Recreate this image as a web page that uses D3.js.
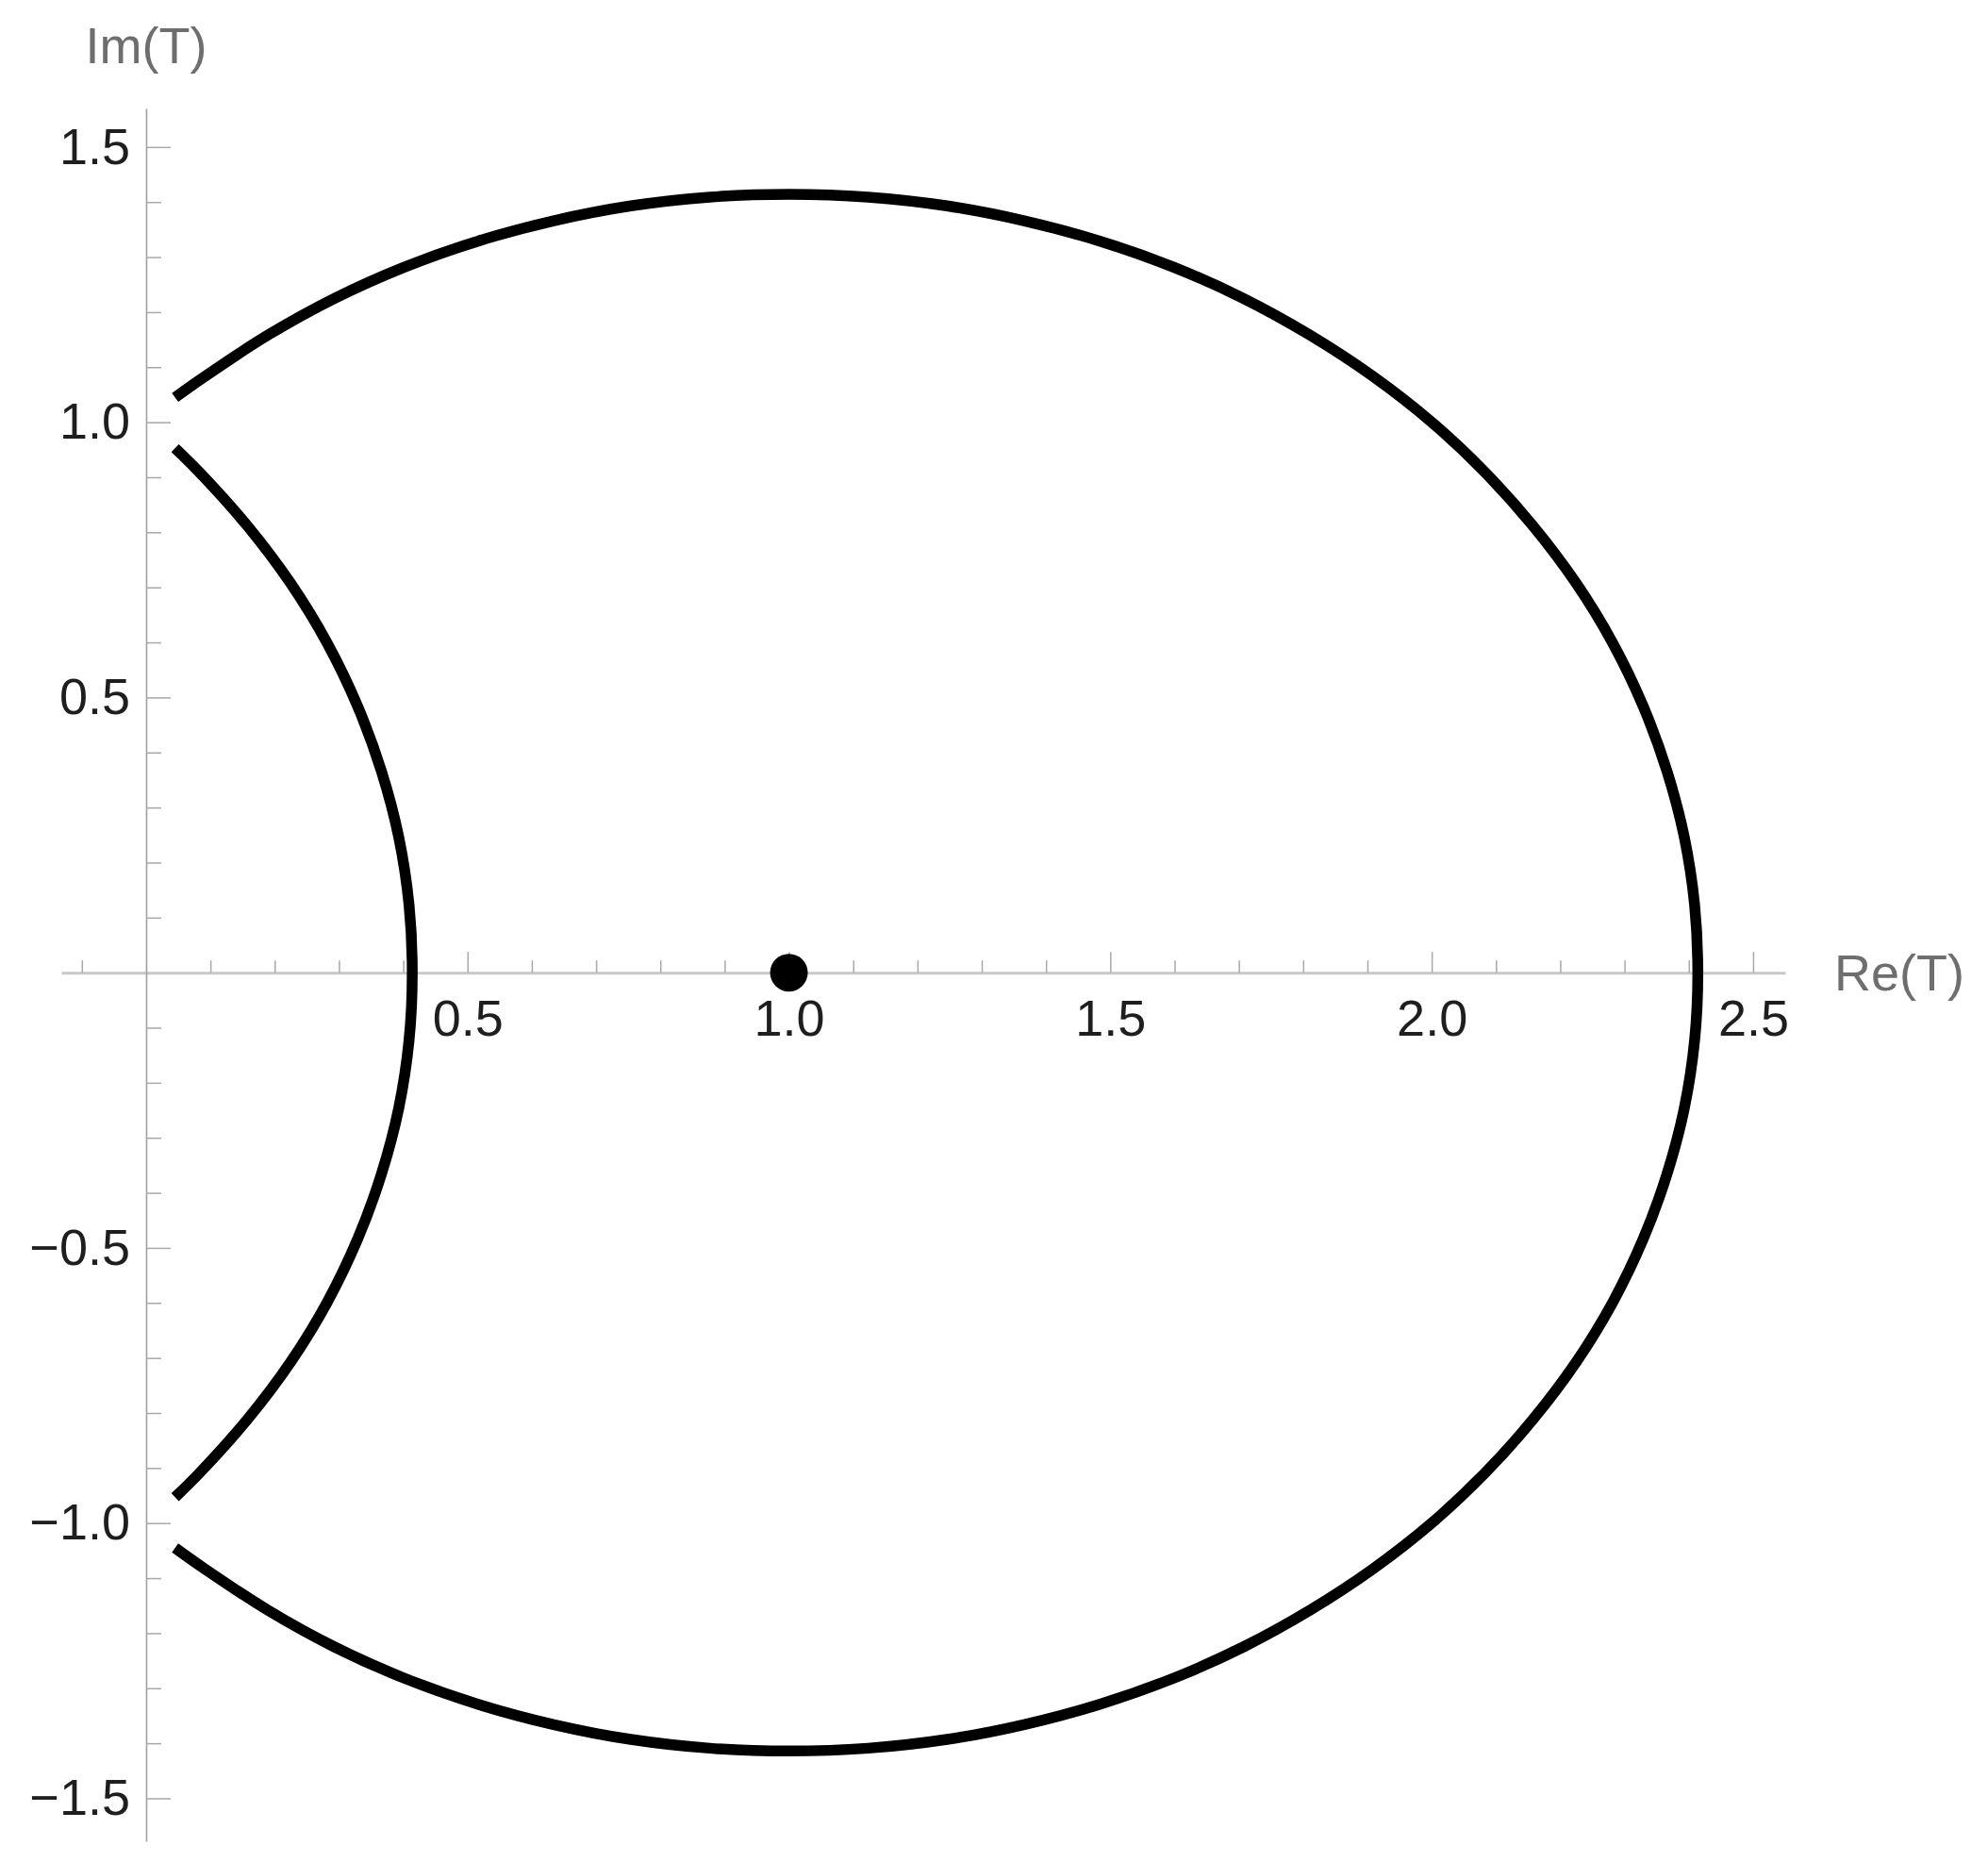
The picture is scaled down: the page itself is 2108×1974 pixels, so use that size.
<!DOCTYPE html>
<html>
<head>
<meta charset="utf-8">
<script src="https://cdn.jsdelivr.net/npm/d3@7"></script>
<style>
  html, body { margin: 0; padding: 0; background: #fff; }
  svg { display: block; }
  text { font-family: "Liberation Sans", Arial, sans-serif; }
</style>
</head>
<body>
<svg id="chart" width="2108" height="1974"></svg>
<script>
// ---- Data ----
// Outer arc (through Re = 2.414), points [Re, Im]
const outerArc = [
  [0.045, 1.045], [0.091, 1.083], [0.189, 1.158], [0.293, 1.225], [0.402, 1.282],
  [0.516, 1.329], [0.634, 1.366], [0.754, 1.393], [0.877, 1.409], [1.000, 1.414],
  [1.123, 1.409], [1.246, 1.393], [1.366, 1.366], [1.484, 1.329], [1.598, 1.282],
  [1.707, 1.225], [1.811, 1.158], [1.909, 1.083], [2.000, 1.000], [2.083, 0.909],
  [2.158, 0.811], [2.225, 0.707], [2.282, 0.598], [2.329, 0.484], [2.366, 0.366],
  [2.393, 0.246], [2.409, 0.123], [2.414, 0.000],
  [2.409, -0.123], [2.393, -0.246], [2.366, -0.366], [2.329, -0.484], [2.282, -0.598],
  [2.225, -0.707], [2.158, -0.811], [2.083, -0.909], [2.000, -1.000], [1.909, -1.083],
  [1.811, -1.158], [1.707, -1.225], [1.598, -1.282], [1.484, -1.329], [1.366, -1.366],
  [1.246, -1.393], [1.123, -1.409], [1.000, -1.414], [0.877, -1.409], [0.754, -1.393],
  [0.634, -1.366], [0.516, -1.329], [0.402, -1.282], [0.293, -1.225], [0.189, -1.158],
  [0.091, -1.083], [0.045, -1.045]
];
// Inner arc (through Re = 0.414)
const innerArc = [
  [0.045, 0.953], [0.083, 0.909], [0.158, 0.811], [0.225, 0.707], [0.282, 0.598],
  [0.329, 0.484], [0.366, 0.366], [0.393, 0.246], [0.409, 0.123], [0.414, 0.000],
  [0.409, -0.123], [0.393, -0.246], [0.366, -0.366], [0.329, -0.484], [0.282, -0.598],
  [0.225, -0.707], [0.158, -0.811], [0.083, -0.909], [0.045, -0.953]
];
// Marked point
const markedPoints = [[1.0, 0.0]];

// Ticks
const xMajorTicks = [0.5, 1.0, 1.5, 2.0, 2.5];
const xMinorTicks = [-0.1, 0.1, 0.2, 0.3, 0.4, 0.6, 0.7, 0.8, 0.9, 1.1, 1.2, 1.3, 1.4,
                     1.6, 1.7, 1.8, 1.9, 2.1, 2.2, 2.3, 2.4];
const yMajorTicks = [-1.5, -1.0, -0.5, 0.5, 1.0, 1.5];
const yMinorTicks = [-1.4, -1.3, -1.2, -1.1, -0.9, -0.8, -0.7, -0.6, -0.4, -0.3, -0.2, -0.1,
                     0.1, 0.2, 0.3, 0.4, 0.6, 0.7, 0.8, 0.9, 1.1, 1.2, 1.3, 1.4];
const xLabel = "Re(T)";
const yLabel = "Im(T)";

// ---- Drawing ----
const svg = d3.select("#chart");
const x = d3.scaleLinear().domain([-0.132, 2.55]).range([65, 1893]);
const y = d3.scaleLinear().domain([1.57, -1.578]).range([115, 1952]);
const fmt = d => d3.format(".1f")(d).replace("-", "\u2212");
const FS = 54;

// X axis: minor ticks
const gxMinor = svg.append("g").attr("transform", `translate(0,${y(0)})`)
  .call(d3.axisBottom(x).tickValues(xMinorTicks).tickSizeInner(-13).tickSizeOuter(0).tickFormat(""));
gxMinor.select(".domain").attr("stroke", "#c8c8c8").attr("stroke-width", 3);
gxMinor.selectAll(".tick line").attr("stroke", "#a8a8a8").attr("stroke-width", 1.5);

const gxMajor = svg.append("g").attr("transform", `translate(0,${y(0)})`)
  .call(d3.axisBottom(x).tickValues(xMajorTicks).tickSizeInner(-22).tickSizeOuter(0)
        .tickPadding(29).tickFormat(fmt));
gxMajor.select(".domain").remove();
gxMajor.selectAll(".tick line").attr("stroke", "#a8a8a8").attr("stroke-width", 1.5);
gxMajor.selectAll(".tick text").attr("font-size", FS).attr("fill", "#1e1e1e")
  .attr("font-family", "'Liberation Sans', Arial, sans-serif");

// Y axis
const gyMinor = svg.append("g").attr("transform", `translate(${x(0)},0)`)
  .call(d3.axisLeft(y).tickValues(yMinorTicks).tickSizeInner(-16).tickSizeOuter(0).tickFormat(""));
gyMinor.select(".domain").attr("stroke", "#a0a0a0").attr("stroke-width", 1.6);
gyMinor.selectAll(".tick line").attr("stroke", "#a8a8a8").attr("stroke-width", 1.5);

const gyMajor = svg.append("g").attr("transform", `translate(${x(0)},0)`)
  .call(d3.axisLeft(y).tickValues(yMajorTicks).tickSizeInner(-26).tickSizeOuter(0)
        .tickPadding(17).tickFormat(fmt));
gyMajor.select(".domain").remove();
gyMajor.selectAll(".tick line").attr("stroke", "#a8a8a8").attr("stroke-width", 1.5);
gyMajor.selectAll(".tick text").attr("font-size", FS).attr("fill", "#1e1e1e")
  .attr("font-family", "'Liberation Sans', Arial, sans-serif");

// Axis labels
svg.append("text").attr("x", 1945).attr("y", y(0) + 19)
  .attr("font-size", FS).attr("fill", "#6e6e6e").attr("text-anchor", "start").text(xLabel);
svg.append("text").attr("x", x(0)).attr("y", 67)
  .attr("font-size", FS).attr("fill", "#6e6e6e").attr("text-anchor", "middle").text(yLabel);

// Curves
const line = d3.line().x(d => x(d[0])).y(d => y(d[1])).curve(d3.curveCatmullRom.alpha(0.5));
[outerArc, innerArc].forEach(arc => {
  svg.append("path").attr("d", line(arc)).attr("fill", "none")
    .attr("stroke", "#000").attr("stroke-width", 11.5).attr("stroke-linecap", "butt");
});

// Point
svg.selectAll("circle.pt").data(markedPoints).join("circle").attr("class", "pt")
  .attr("cx", d => x(d[0])).attr("cy", d => y(d[1])).attr("r", 20).attr("fill", "#000");
</script>
</body>
</html>
